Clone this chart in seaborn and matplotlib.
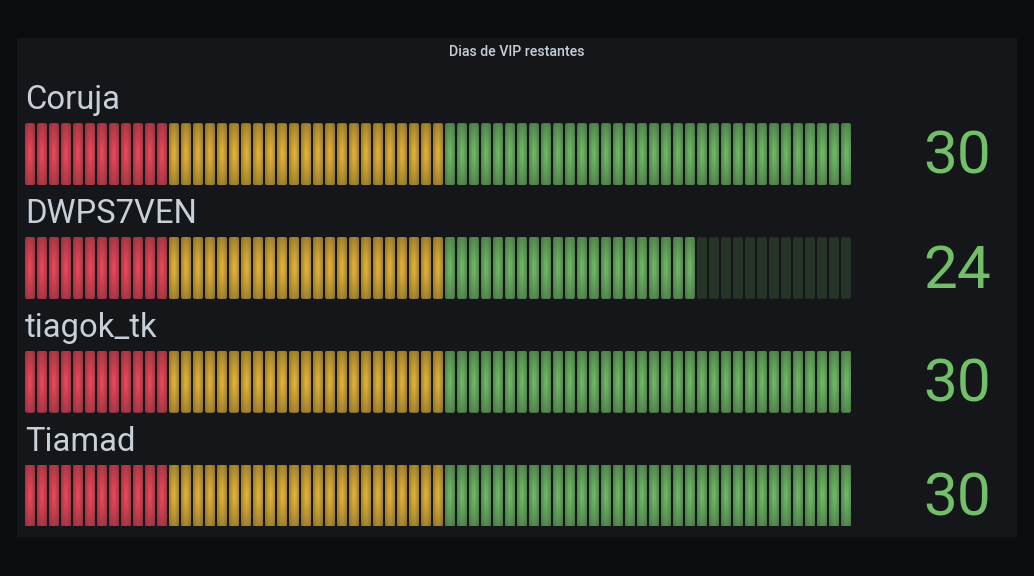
#%% imports
import numpy as np
import pandas as pd
import matplotlib.pyplot as plt
import matplotlib.colors as mcolors
from matplotlib.patches import Rectangle, FancyBboxPatch
import seaborn as sns

#%% data
users = ['Coruja', 'DWPS7VEN', 'tiagok_tk', 'Tiamad']
days_left = [30, 24, 30, 30]
gauge_min = 0
gauge_max = 30
threshold_steps = [0, 5, 15]
threshold_colors = ['#F2495C', '#EAB839', '#73BF69']
panel_title = 'Dias de VIP restantes'
cell_count = 69

#%% style
W, H = 1034, 576
canvas_bg = '#0b0c0e'
panel_bg = '#141619'
text_color = '#c7d0d9'

sns.set_theme(style='dark', rc={'figure.facecolor': canvas_bg, 'axes.facecolor': 'none'})
plt.rcParams['font.family'] = ['Roboto', 'DejaVu Sans']

bar_left, bar_width = 25, 826
bar_top0, row_pitch, bar_height = 123.3, 113.8, 61.7
cell_px = 12
corner_px = 2


def blend(color, alpha, bg=panel_bg):
  c = np.array(mcolors.to_rgb(color))
  b = np.array(mcolors.to_rgb(bg))
  return alpha * c + (1 - alpha) * b


def color_for(value):
  step = np.searchsorted(threshold_steps, value, side='right') - 1
  return threshold_colors[step]


def cell_table(value):
  idx = np.arange(cell_count)
  cell_value = gauge_min + (gauge_max - gauge_min) / cell_count * idx
  colors = [color_for(v) for v in cell_value]
  lit = cell_value <= value
  fill = [mcolors.to_hex(blend(c, 0.55 if l else 0.18)) for c, l in zip(colors, lit)]
  return pd.DataFrame({'cell': idx, 'value': cell_value, 'color': colors,
                       'lit': lit, 'fill': fill, 'height': 1.0})


def gradient(color, ny=80, nx=20):
  # css radial-gradient(color 95% 10%, color 55%), ellipse farthest-corner
  u = np.linspace(-1, 1, nx)
  v = np.linspace(-1, 1, ny)
  uu, vv = np.meshgrid(u, v)
  t = np.sqrt(uu ** 2 + vv ** 2) / np.sqrt(2)
  a = np.where(t <= 0.1, 0.95, 0.95 + (0.55 - 0.95) * (t - 0.1) / 0.9)
  c = np.array(mcolors.to_rgb(color))
  b = np.array(mcolors.to_rgb(panel_bg))
  return a[..., None] * c + (1 - a[..., None]) * b


#%% figure
fig = plt.figure(figsize=(W / 100, H / 100), dpi=100)
fig.add_artist(Rectangle((17 / W, 1 - 537 / H), 1000 / W, 499 / H, transform=fig.transFigure,
                         facecolor=panel_bg, edgecolor='none', zorder=-10))
fig.text(517 / W, 1 - 52 / H, panel_title, fontsize=10.2, fontweight='medium',
         color=text_color, ha='center', va='center')

for row, (user, days) in enumerate(zip(users, days_left)):
  top = bar_top0 + row * row_pitch
  ax = fig.add_axes([bar_left / W, 1 - (top + bar_height) / H, bar_width / W, bar_height / H])
  cells = cell_table(days)
  sns.barplot(
    data=cells, x='cell', y='height', hue='fill',
    palette={f: f for f in cells['fill'].unique()},
    native_scale=True, width=10 / 12, dodge=False, legend=False,
    saturation=1, linewidth=0, ax=ax,
  )
  ax.set_xlim(-5 / 12, cell_count - 1 + 5 / 12)
  ax.set_ylim(0, 1)
  ax.axis('off')

  # rounded corners of 2px: x unit = 12px, y unit = bar height
  aspect = cell_px / bar_height
  for patch in list(ax.patches):
    i = int(round(patch.get_x() + patch.get_width() / 2))
    x0, w = patch.get_x(), patch.get_width()
    rounded = FancyBboxPatch((x0, 0), w, 1, boxstyle=f'round,pad=0,rounding_size={corner_px / cell_px}',
                             mutation_aspect=aspect, transform=ax.transData)
    patch.set_clip_path(rounded)
    if cells['lit'][i]:
      img = ax.imshow(gradient(cells['color'][i]), extent=(x0, x0 + w, 0, 1),
                      aspect='auto', interpolation='bilinear', zorder=3)
      img.set_clip_path(rounded)
  ax.set_xlim(-5 / 12, cell_count - 1 + 5 / 12)
  ax.set_ylim(0, 1)

  fig.text(25 / W, 1 - (top - 14) / H, user, fontsize=23.6, color=text_color,
           ha='left', va='baseline')
  fig.text(991 / W, 1 - (top + bar_height - 11) / H, str(days), fontsize=43.5,
           color=color_for(days), ha='right', va='baseline')

fig.savefig('out.png', dpi=100, facecolor=canvas_bg)
